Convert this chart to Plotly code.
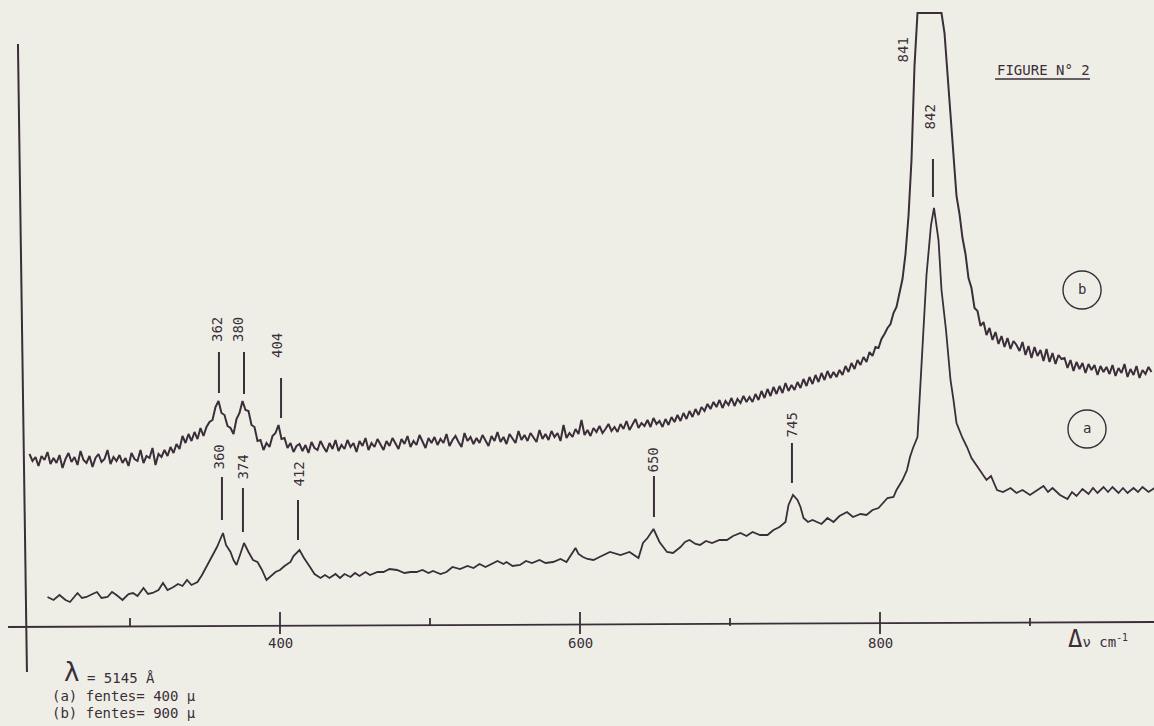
import plotly.graph_objects as go

# ---------------- data (wavenumber cm-1, intensity arb. units) ----------------
a_wn = [245, 249, 253, 257, 260, 265, 268, 271, 275, 278, 281, 285, 288, 291, 295, 299, 302, 305, 309, 312,
        315, 319, 322, 325, 329, 332, 335, 338, 341, 345, 348, 351, 355, 358, 360, 362, 364, 367, 369, 371,
        374, 376, 379, 382, 385, 388, 391, 395, 397, 400, 403, 407, 409, 413, 416, 420, 423, 427, 430, 433,
        437, 440, 443, 447, 450, 453, 457, 460, 465, 469, 473, 478, 483, 487, 491, 495, 499, 502, 507, 511,
        515, 520, 525, 529, 533, 537, 540, 545, 549, 551, 555, 560, 564, 568, 573, 577, 582, 587, 591, 597,
        599, 602, 605, 609, 613, 620, 627, 633, 639, 642, 645, 649, 653, 658, 662, 667, 670, 673, 677, 680,
        684, 688, 693, 698, 702, 707, 711, 715, 720, 725, 729, 733, 737, 739, 742, 745, 747, 749, 752, 755,
        758, 761, 765, 769, 773, 778, 782, 787, 791, 795, 799, 802, 805, 809, 811, 815, 818, 820, 822, 825,
        827, 829, 831, 834, 836, 839, 841, 844, 845, 847, 849, 851, 855, 858, 861, 865, 868, 871, 874, 878,
        882, 887, 891, 895, 900, 905, 909, 912, 915, 920, 925, 928, 931, 935, 939, 942, 945, 949, 952, 955,
        959, 962, 965, 969, 972, 975, 979, 983]
a_int = [29, 26, 31, 26, 24, 33, 28, 29, 32, 34, 28, 29, 34, 31, 26, 32, 33, 30, 38, 32,
         33, 36, 43, 36, 39, 42, 40, 46, 41, 44, 51, 59, 70, 79, 86, 93, 81, 74, 66, 61,
         74, 83, 74, 66, 64, 56, 46, 51, 54, 56, 60, 64, 70, 76, 68, 59, 52, 48, 51, 48,
         52, 48, 52, 49, 53, 50, 54, 51, 54, 54, 57, 56, 53, 54, 54, 56, 53, 55, 52, 54,
         59, 57, 60, 58, 62, 59, 61, 65, 62, 64, 60, 61, 65, 63, 66, 63, 64, 67, 64, 78,
         72, 69, 67, 66, 69, 74, 71, 74, 68, 83, 88, 97, 84, 74, 73, 79, 84, 86, 82, 81,
         85, 83, 86, 86, 90, 93, 90, 94, 91, 91, 96, 99, 104, 121, 131, 126, 119, 108, 104, 106,
         104, 102, 108, 104, 110, 114, 109, 112, 111, 116, 118, 123, 128, 129, 136, 146, 156, 169, 178, 189,
         243, 296, 351, 401, 418, 386, 336, 296, 276, 246, 226, 203, 188, 179, 168, 159, 152, 146, 150, 136,
         134, 138, 133, 136, 131, 136, 140, 134, 138, 131, 127, 134, 130, 137, 132, 138, 133, 139, 134, 139,
         133, 138, 133, 138, 134, 139, 134, 138]

# curve (b): sampled every 2 cm-1 from 233 to 981
b_wn = list(range(233, 982, 2))
b_int = [172, 165, 169, 160, 170, 166, 174, 162, 168, 163, 171, 158, 167, 173, 164,
         169, 161, 175, 166, 163, 170, 159, 168, 172, 164, 167, 176, 162, 169, 165,
         171, 163, 168, 160, 173, 167, 165, 176, 163, 170, 168, 178, 161, 172, 169,
         176, 170, 179, 173, 182, 177, 190, 183, 192, 185, 194, 187, 198, 190, 199,
         204, 206, 219, 225, 213, 211, 200, 198, 192, 207, 213, 225, 216, 215, 201,
         199, 185, 186, 176, 183, 179, 190, 193, 201, 187, 188, 178, 183, 174, 180,
         182, 175, 181, 173, 184, 178, 176, 185, 179, 174, 183, 177, 186, 175, 181,
         177, 186, 179, 183, 174, 185, 180, 188, 176, 183, 179, 187, 181, 176, 185,
         180, 188, 183, 177, 187, 182, 190, 179, 185, 181, 191, 184, 178, 188, 183,
         189, 181, 187, 183, 192, 180, 186, 190, 184, 179, 193, 185, 189, 182, 188,
         183, 191, 186, 180, 190, 185, 194, 184, 189, 182, 192, 187, 183, 195, 186,
         191, 185, 193, 188, 184, 196, 187, 192, 186, 195, 189, 193, 185, 201, 188,
         193, 189, 197, 192, 206, 191, 196, 190, 198, 194, 200, 193, 197, 202, 195,
         199, 194, 202, 197, 205, 196, 201, 207, 198, 203, 200, 206, 199, 208, 202,
         205, 199, 207, 201, 209, 204, 211, 205, 213, 207, 215, 209, 217, 211, 219,
         215, 222, 217, 224, 219, 226, 218, 225, 221, 228, 220, 227, 223, 230, 224,
         229, 224, 232, 226, 235, 228, 237, 230, 239, 232, 240, 233, 243, 235, 241,
         236, 244, 238, 247, 240, 249, 242, 251, 244, 253, 246, 255, 248, 254, 249,
         256, 251, 260, 254, 263, 257, 266, 261, 269, 264, 274, 270, 279, 278, 287,
         292, 298, 302, 313, 319, 335, 347, 372, 410, 466, 560, 613, 613, 613, 613,
         613, 613, 613, 613, 613, 593, 550, 511, 472, 430, 412, 388, 372, 348, 338,
         318, 315, 300, 304, 291, 298, 286, 294, 282, 290, 279, 288, 277, 285, 281,
         275, 284, 271, 280, 268, 279, 270, 276, 265, 277, 264, 273, 262, 271, 267,
         268, 258, 266, 255, 264, 257, 263, 253, 262, 256, 261, 251, 260, 254, 259,
         252, 261, 250, 258, 253, 262, 249, 257, 251, 260, 248, 256, 252, 259, 254]

# peak labels
b_peak_labels = ["362", "380", "404"]
b_label_x = [358, 372, 398]
b_label_y = [296, 296, 280]
b_tick_x = [359.3, 376, 400.7]
b_tick_lo = [233, 232, 208]
b_tick_hi = [274, 274, 248]

a_peak_labels = ["360", "374", "412", "650", "745"]
a_label_x = [358.7, 374.7, 412, 648, 741.3]
a_label_y = [168.5, 158.5, 151.5, 165.5, 201.5]
a_tick_x = [361.3, 375.3, 412, 649.3, 741.3]
a_tick_lo = [106, 94, 86, 109, 143]
a_tick_hi = [149, 138, 126, 150, 183]

major_ticks = [400, 600, 800]
minor_ticks = [300, 500, 700, 900]

INK = "#3a2e3a"
PAPER = "#efeee6"
FONT = "DejaVu Sans Mono"

fig = go.Figure()
fig.add_trace(go.Scatter(x=b_wn, y=b_int, mode="lines", name="(b)",
                         line=dict(color=INK, width=2), hoverinfo="skip"))
fig.add_trace(go.Scatter(x=a_wn, y=a_int, mode="lines", name="(a)",
                         line=dict(color=INK, width=1.8), hoverinfo="skip"))

shapes = []
ann = []
line_style = dict(color=INK, width=1.8)
tf = dict(family=FONT, size=14, color=INK)

# axes
shapes.append(dict(type="line", x0=218.7, y0=-1, x1=982.7, y1=4, line=line_style))
shapes.append(dict(type="line", x0=225.3, y0=582, x1=231.3, y1=-46, line=dict(color=INK, width=2)))
for t in major_ticks:
    shapes.append(dict(type="line", x0=t, y0=14, x1=t, y1=-8, line=line_style))
    ann.append(dict(x=t, y=-17, text=str(t), showarrow=False, xanchor="center", yanchor="middle", font=tf))
for t in minor_ticks:
    shapes.append(dict(type="line", x0=t, y0=0, x1=t, y1=8, line=line_style))

# peak marks
for lab, lx, ly, tx, lo, hi in zip(b_peak_labels, b_label_x, b_label_y, b_tick_x, b_tick_lo, b_tick_hi):
    shapes.append(dict(type="line", x0=tx, y0=lo, x1=tx, y1=hi, line=dict(color=INK, width=2)))
    ann.append(dict(x=lx, y=ly, text=lab, textangle=-90, showarrow=False, xanchor="center",
                    yanchor="middle", font=tf))
for lab, lx, ly, tx, lo, hi in zip(a_peak_labels, a_label_x, a_label_y, a_tick_x, a_tick_lo, a_tick_hi):
    shapes.append(dict(type="line", x0=tx, y0=lo, x1=tx, y1=hi, line=dict(color=INK, width=2)))
    ann.append(dict(x=lx, y=ly, text=lab, textangle=-90, showarrow=False, xanchor="center",
                    yanchor="middle", font=tf))
ann.append(dict(x=815.3, y=576.5, text="841", textangle=-90, showarrow=False, font=tf))
ann.append(dict(x=833.3, y=509.5, text="842", textangle=-90, showarrow=False, font=tf))
shapes.append(dict(type="line", x0=835.3, y0=429, x1=835.3, y1=467, line=dict(color=INK, width=2)))

# curve identifiers
shapes.append(dict(type="circle", x0=922, x1=947.4, y0=317, y1=355, line=dict(color=INK, width=1.4)))
shapes.append(dict(type="circle", x0=925.3, x1=950.7, y0=178, y1=216, line=dict(color=INK, width=1.4)))
ann.append(dict(x=934.7, y=337, text="b", showarrow=False, font=tf))
ann.append(dict(x=938, y=198, text="a", showarrow=False, font=tf))

# title
ann.append(dict(x=876.7, y=556, text="FIGURE N° 2", showarrow=False, xanchor="left", yanchor="middle", font=tf))
shapes.append(dict(type="line", x0=876.7, y0=547, x1=940, y1=547, line=dict(color=INK, width=1.4)))

# axis title
ann.append(dict(x=924, y=-13, text="<span style='font-size:24px'>Δ</span>ν cm<sup>-1</sup>",
                showarrow=False, xanchor="left", yanchor="middle", font=tf))

# conditions
ann.append(dict(x=260.7, y=-46, text="λ", showarrow=False, xanchor="center", yanchor="middle",
                font=dict(family="DejaVu Sans", size=26, color=INK)))
ann.append(dict(x=270, y=-52, text="= 5145 Å", showarrow=False, xanchor="left", yanchor="middle", font=tf))
ann.append(dict(x=246.7, y=-70, text="(a) fentes= 400 µ", showarrow=False, xanchor="left",
                yanchor="middle", font=tf))
ann.append(dict(x=246.7, y=-87, text="(b) fentes= 900 µ", showarrow=False, xanchor="left",
                yanchor="middle", font=tf))

fig.update_layout(
    width=1154, height=726, autosize=False,
    margin=dict(l=0, r=0, t=0, b=0, pad=0),
    paper_bgcolor=PAPER, plot_bgcolor=PAPER,
    showlegend=False,
    xaxis=dict(range=[213.33, 982.67], visible=False, fixedrange=True),
    yaxis=dict(range=[-100, 626], visible=False, fixedrange=True),
    shapes=shapes, annotations=ann,
)

fig.write_html("out.html", config={"displayModeBar": False},
               post_script="document.body.style.margin='0px';document.body.style.background='#efeee6';")
